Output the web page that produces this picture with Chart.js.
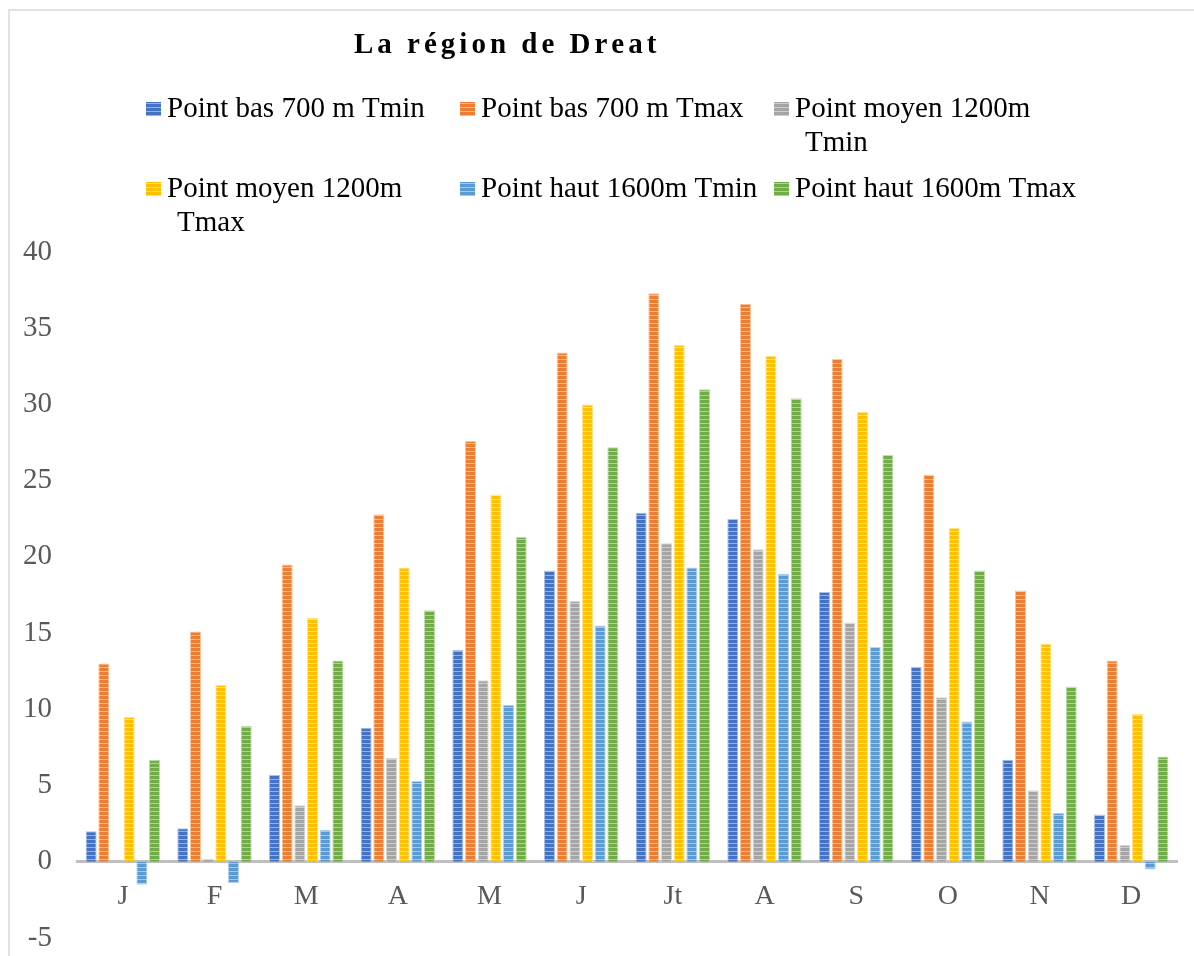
<!DOCTYPE html>
<html>
<head>
<meta charset="utf-8">
<script src="https://cdn.jsdelivr.net/npm/chart.js@4.4.1/dist/chart.umd.min.js"></script>
<style>
  html, body { margin: 0; padding: 0; background: #ffffff; }
  canvas { display: block; }
</style>
</head>
<body>
<canvas id="chart" width="1194" height="956"></canvas>
<script>
// Monthly temperatures (°C) at three altitudes, region of Dreat
const chartTitle = 'La région de Dreat';
const months = ['J', 'F', 'M', 'A', 'M', 'J', 'Jt', 'A', 'S', 'O', 'N', 'D'];
const seriesNames = [
  'Point bas 700 m Tmin',
  'Point bas 700 m Tmax',
  'Point moyen 1200m Tmin',
  'Point moyen 1200m Tmax',
  'Point haut 1600m Tmin',
  'Point haut 1600m Tmax'
];
const basTmin   = [2.0, 2.2, 5.7, 8.8, 13.9, 19.1, 22.9, 22.5, 17.7, 12.8, 6.7, 3.1];
const basTmax   = [13.0, 15.1, 19.5, 22.8, 27.6, 33.4, 37.3, 36.6, 33.0, 25.4, 17.8, 13.2];
const moyenTmin = [0.0, 0.2, 3.7, 6.8, 11.9, 17.1, 20.9, 20.5, 15.7, 10.8, 4.7, 1.1];
const moyenTmax = [9.5, 11.6, 16.0, 19.3, 24.1, 30.0, 33.9, 33.2, 29.5, 21.9, 14.3, 9.7];
const hautTmin  = [-1.5, -1.4, 2.1, 5.3, 10.3, 15.5, 19.3, 18.9, 14.1, 9.2, 3.2, -0.5];
const hautTmax  = [6.7, 8.9, 13.2, 16.5, 21.3, 27.2, 31.0, 30.4, 26.7, 19.1, 11.5, 6.9];
const yMin = -5, yMax = 40, yStep = 5;

const seriesValues = [basTmin, basTmax, moyenTmin, moyenTmax, hautTmin, hautTmax];
const seriesColors = ['#4472C4', '#ED7D31', '#A5A5A5', '#FFC000', '#5B9BD5', '#70AD47'];

const SERIF = '"Liberation Serif", "Times New Roman", serif';

function mixWhite(hex, t) {
  const n = parseInt(hex.slice(1), 16);
  const r = (n >> 16) & 255, g = (n >> 8) & 255, b = n & 255;
  const m = v => Math.round(v + (255 - v) * t);
  return `rgb(${m(r)},${m(g)},${m(b)})`;
}

// horizontal-stripe fill used for the bars and legend swatches
function stripePattern(hex) {
  const tile = document.createElement('canvas');
  tile.width = 4; tile.height = 4;
  const g = tile.getContext('2d');
  g.fillStyle = hex;
  g.fillRect(0, 0, 4, 4);
  g.fillStyle = mixWhite(hex, 0.45);
  g.fillRect(0, 3, 4, 1);
  return g.createPattern(tile, 'repeat');
}

const datasets = seriesNames.map((name, i) => ({
  label: name,
  data: seriesValues[i],
  backgroundColor: stripePattern(seriesColors[i]),
  borderColor: mixWhite(seriesColors[i], 0.55),
  borderWidth: 1,
  swatch: seriesColors[i],
  categoryPercentage: 0.83,
  barPercentage: 0.87
}));

// white background and the light frame around the chart
const framePlugin = {
  id: 'frame',
  beforeDraw(chart) {
    const ctx = chart.ctx;
    ctx.save();
    ctx.fillStyle = '#ffffff';
    ctx.fillRect(0, 0, chart.width, chart.height);
    ctx.strokeStyle = '#d9d9d9';
    ctx.lineWidth = 1.5;
    ctx.beginPath();
    ctx.moveTo(9, chart.height);
    ctx.lineTo(9, 10);
    ctx.lineTo(chart.width, 10);
    ctx.stroke();
    ctx.restore();
  }
};

// letter-spaced bold title
const titlePlugin = {
  id: 'spacedTitle',
  afterDraw(chart) {
    const ctx = chart.ctx;
    ctx.save();
    ctx.font = 'bold 29px ' + SERIF;
    ctx.fillStyle = '#000000';
    ctx.textBaseline = 'alphabetic';
    const spacing = 4;
    let x = 354;
    for (const ch of chartTitle) {
      ctx.fillText(ch, x, 53);
      x += ctx.measureText(ch).width + spacing;
    }
    ctx.restore();
  }
};

// three-column legend whose long labels wrap onto a second line
const legendPlugin = {
  id: 'wrappedLegend',
  afterDraw(chart) {
    const ctx = chart.ctx;
    ctx.save();
    ctx.font = '29px ' + SERIF;
    ctx.textBaseline = 'alphabetic';
    const maxWidth = 290;
    chart.data.datasets.forEach((ds, i) => {
      const col = i % 3, row = Math.floor(i / 3);
      const bx = 146 + col * 314;
      const base = 117 + row * 80;
      ctx.fillStyle = stripePattern(ds.swatch);
      ctx.fillRect(bx, base - 15, 15, 14);
      const words = ds.label.split(' ');
      const lines = [];
      let cur = '';
      for (const w of words) {
        const test = cur ? cur + ' ' + w : w;
        if (cur && ctx.measureText(test).width > maxWidth) {
          lines.push(cur);
          cur = w;
        } else {
          cur = test;
        }
      }
      lines.push(cur);
      ctx.fillStyle = '#000000';
      lines.forEach((ln, k) => {
        ctx.fillText(ln, bx + 21 + (k ? 10 : 0), base + k * 34);
      });
    });
    ctx.restore();
  }
};

new Chart(document.getElementById('chart'), {
  type: 'bar',
  data: { labels: months, datasets },
  options: {
    responsive: false,
    animation: false,
    layout: { padding: { top: 252, left: 20, right: 17, bottom: 18 } },
    plugins: {
      legend: { display: false },
      title: { display: false },
      tooltip: { enabled: false }
    },
    scales: {
      x: {
        position: { y: 0 },
        offset: true,
        grid: { display: false, drawTicks: false },
        border: { display: true, color: '#BFBFBF', width: 3 },
        ticks: {
          color: '#595959',
          font: { family: SERIF, size: 28 },
          padding: 18,
          maxRotation: 0,
          autoSkip: false
        },
        afterFit(scale) { scale.height = 0; }
      },
      y: {
        min: yMin,
        max: yMax,
        grid: { display: false, drawTicks: false },
        border: { display: false },
        ticks: {
          stepSize: yStep,
          color: '#595959',
          font: { family: SERIF, size: 29 },
          padding: 25
        },
        afterFit(scale) {
          scale.width = 57;
          scale.paddingTop = 0;
          scale.paddingBottom = 0;
        }
      }
    }
  },
  plugins: [framePlugin, titlePlugin, legendPlugin]
});
</script>
</body>
</html>
